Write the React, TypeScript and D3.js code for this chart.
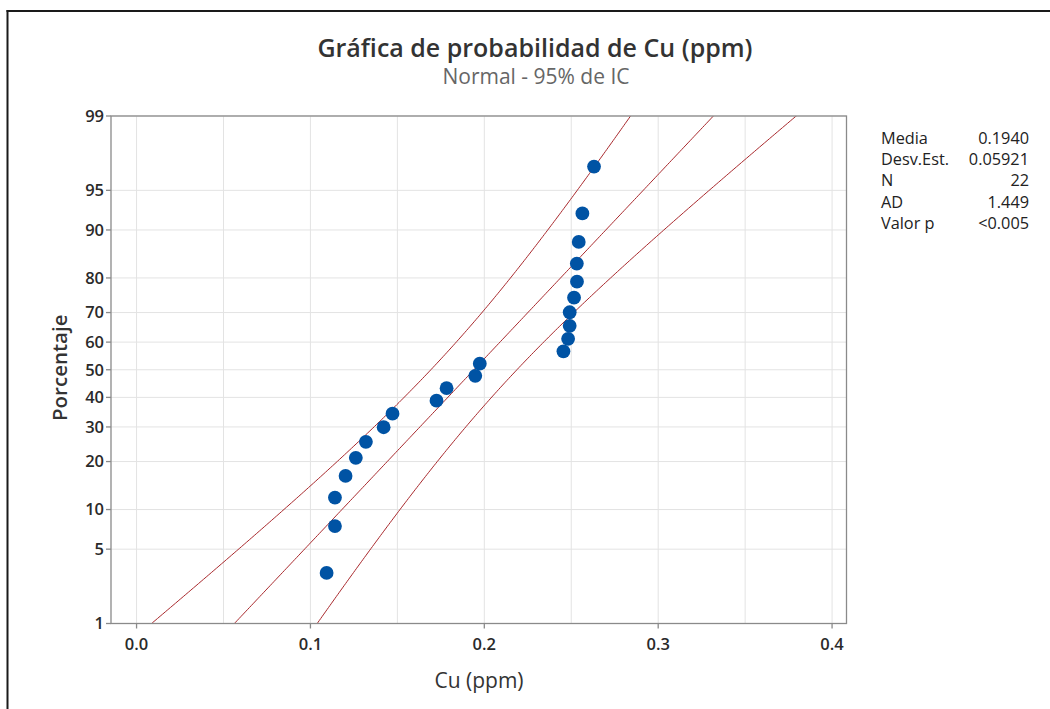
import React from "react";
import * as d3 from "d3";

// ---- data ----
const cuValues = [
  0.1093, 0.1141, 0.1141, 0.1202, 0.1261, 0.1319, 0.1421, 0.1472, 0.1725, 0.1783, 0.1948,
  0.1974, 0.2455, 0.2482, 0.2491, 0.2491, 0.2516, 0.2533, 0.2532, 0.2543, 0.2564, 0.2631,
];
const percentValues = [
  3.125, 7.589, 12.054, 16.518, 20.982, 25.446, 29.911, 34.375, 38.839, 43.304, 47.768,
  52.232, 56.696, 61.161, 65.625, 70.089, 74.554, 79.018, 83.482, 87.946, 92.411, 96.875,
];
const yTicks = [1, 5, 10, 20, 30, 40, 50, 60, 70, 80, 90, 95, 99];
const xTicks = [0, 0.1, 0.2, 0.3, 0.4];
const xGridValues = [0, 0.05, 0.1, 0.15, 0.2, 0.25, 0.3, 0.35, 0.4];
const statLabels = ["Media", "Desv.Est.", "N", "AD", "Valor p"];
const statValues = ["0.1940", "0.05921", "22", "1.449", "<0.005"];
const fitMean = 0.194;
const fitSd = 0.05921;
const fitN = 22;
const confZ = 1.96;

// inverse standard normal CDF (Acklam)
function probit(p: number): number {
  const a = [-3.969683028665376e1, 2.209460984245205e2, -2.759285104469687e2, 1.38357751867269e2, -3.066479806614716e1, 2.506628277459239];
  const b = [-5.447609879822406e1, 1.615858368580409e2, -1.556989798598866e2, 6.680131188771972e1, -1.328068155288572e1];
  const c = [-7.784894002430293e-3, -3.223964580411365e-1, -2.400758277161838, -2.549732539343734, 4.374664141464968, 2.938163982698783];
  const d = [7.784695709041462e-3, 3.224671290700398e-1, 2.445134137142996, 3.754408661907416];
  const pl = 0.02425;
  let q: number, r: number;
  if (p < pl) {
    q = Math.sqrt(-2 * Math.log(p));
    return (((((c[0] * q + c[1]) * q + c[2]) * q + c[3]) * q + c[4]) * q + c[5]) / ((((d[0] * q + d[1]) * q + d[2]) * q + d[3]) * q + 1);
  }
  if (p <= 1 - pl) {
    q = p - 0.5;
    r = q * q;
    return ((((((a[0] * r + a[1]) * r + a[2]) * r + a[3]) * r + a[4]) * r + a[5]) * q) / (((((b[0] * r + b[1]) * r + b[2]) * r + b[3]) * r + b[4]) * r + 1);
  }
  q = Math.sqrt(-2 * Math.log(1 - p));
  return -(((((c[0] * q + c[1]) * q + c[2]) * q + c[3]) * q + c[4]) * q + c[5]) / ((((d[0] * q + d[1]) * q + d[2]) * q + d[3]) * q + 1);
}

const W = 1050;
const H = 709;
const L = 111;
const R = 846.5;
const T = 116;
const B = 623.5;
const FONT = "'Open Sans', 'Noto Sans', sans-serif";

export default function App() {
  const x = d3.scaleLinear().domain([-0.0147, 0.4083]).range([L, R]);
  const y = d3.scaleLinear().domain([probit(0.01), probit(0.99)]).range([B, T]);

  const zs = d3.range(-3.4, 3.41, 0.02);
  const fitLine = d3.line<number>().x((z) => x(fitMean + fitSd * z)).y((z) => y(z));
  const band = (sign: number) =>
    d3
      .line<number>()
      .x((z) => x(fitMean + fitSd * z + sign * confZ * fitSd * Math.sqrt(1 / fitN + (z * z) / (2 * fitN))))
      .y((z) => y(z));

  const lineColor = "#a8282c";

  return (
    <svg width={W} height={H} style={{ position: "absolute", left: 0, top: 0, background: "#fff" }} fontFamily={FONT}>
      <rect x={0} y={0} width={W} height={H} fill="#fff" />
      {/* outer frame */}
      <line x1={6.5} y1={11} x2={W} y2={11} stroke="#1a1a1a" strokeWidth={2} />
      <line x1={7.5} y1={10} x2={7.5} y2={H} stroke="#1a1a1a" strokeWidth={2} />

      {/* titles */}
      <text x={535} y={57} textAnchor="middle" fontSize={25} fontWeight={600} fill="#333">
        Gráfica de probabilidad de Cu (ppm)
      </text>
      <text x={536} y={84} textAnchor="middle" fontSize={21} fill="#666">
        Normal - 95% de IC
      </text>

      <defs>
        <clipPath id="plotClip">
          <rect x={L} y={T} width={R - L} height={B - T} />
        </clipPath>
      </defs>

      {/* grid */}
      {xGridValues.map((v) => (
        <line key={"gx" + v} x1={x(v)} x2={x(v)} y1={T} y2={B} stroke="#e3e3e3" strokeWidth={1} />
      ))}
      {yTicks.map((p) => (
        <line key={"gy" + p} x1={L} x2={R} y1={y(probit(p / 100))} y2={y(probit(p / 100))} stroke="#e3e3e3" strokeWidth={1} />
      ))}

      {/* fit and confidence bands */}
      <g clipPath="url(#plotClip)" fill="none" stroke={lineColor} strokeWidth={1}>
        <path d={fitLine(zs) || ""} />
        <path d={band(-1)(zs) || ""} />
        <path d={band(1)(zs) || ""} />
      </g>

      {/* points */}
      {cuValues.map((v, i) => (
        <circle key={"p" + i} cx={x(v)} cy={y(probit(percentValues[i] / 100))} r={6.9} fill="#0053a4" />
      ))}

      {/* plot border */}
      <rect x={L} y={T} width={R - L} height={B - T} fill="none" stroke="#8a8a8a" strokeWidth={1.3} />

      {/* y ticks */}
      {yTicks.map((p) => {
        const yy = y(probit(p / 100));
        return (
          <g key={"yt" + p}>
            <line x1={L - 5} x2={L} y1={yy} y2={yy} stroke="#8a8a8a" strokeWidth={1.3} />
            <text x={L - 7} y={yy} dy="0.36em" textAnchor="end" fontSize={16.5} fontWeight={600} fill="#2a2a2a">
              {p}
            </text>
          </g>
        );
      })}

      {/* x ticks */}
      {xTicks.map((v) => (
        <g key={"xt" + v}>
          <line x1={x(v)} x2={x(v)} y1={B} y2={B + 5} stroke="#8a8a8a" strokeWidth={1.3} />
          <text x={x(v)} y={B + 26} textAnchor="middle" fontSize={16.5} fontWeight={600} fill="#2a2a2a">
            {d3.format(".1f")(v)}
          </text>
        </g>
      ))}

      {/* axis labels */}
      <text x={479} y={688} textAnchor="middle" fontSize={21} fill="#333">
        Cu (ppm)
      </text>
      <text transform={`translate(67,${(T + B) / 2 - 2}) rotate(-90)`} textAnchor="middle" fontSize={20.5} fontWeight={600} fill="#333">
        Porcentaje
      </text>

      {/* stats table */}
      {statLabels.map((s, i) => (
        <g key={"st" + i}>
          <text x={881} y={144 + i * 21.2} fontSize={16.3} fill="#222">
            {s}
          </text>
          <text x={1029} y={144 + i * 21.2} fontSize={16.3} textAnchor="end" fill="#222">
            {statValues[i]}
          </text>
        </g>
      ))}
    </svg>
  );
}
